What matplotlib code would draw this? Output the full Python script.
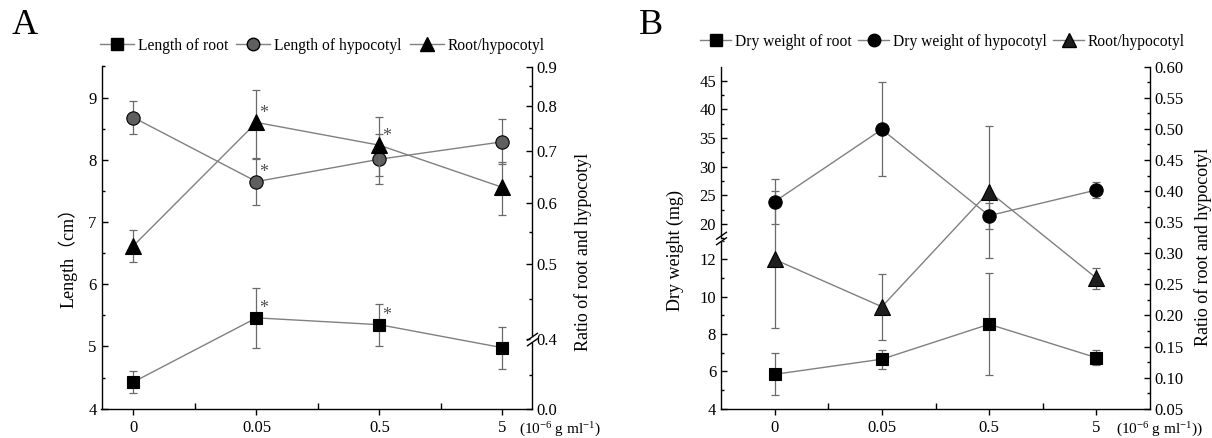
import numpy as np
import matplotlib
matplotlib.use('Agg')
import matplotlib.pyplot as plt
import matplotlib.ticker as mticker
from matplotlib.lines import Line2D
from matplotlib.path import Path

plt.rcParams['font.family'] = ['Liberation Serif', 'Noto Sans CJK SC', 'DejaVu Sans']
plt.rcParams['mathtext.fontset'] = 'custom'
plt.rcParams['mathtext.rm'] = 'Liberation Serif'
plt.rcParams['mathtext.it'] = 'Liberation Serif:italic'
plt.rcParams['axes.linewidth'] = 1.0

conc_labels = ['0', '0.05', '0.5', '5']

# A: 长度 (cm) 与根/下胚轴比值
root_len = [4.43, 5.46, 5.35, 4.98]
root_len_err = [0.18, 0.48, 0.34, 0.34]
hypo_len = [8.68, 7.65, 8.01, 8.29]
hypo_len_err = [0.26, 0.37, 0.40, 0.36]
ratio_len = [0.528, 0.762, 0.712, 0.628]
ratio_len_err = [0.025, 0.076, 0.062, 0.050]
sig_root_len = [False, True, True, False]
sig_hypo_len = [False, True, False, False]
sig_ratio_len = [False, True, True, False]

# B: 干重 (mg) 与比值
root_dw = [5.84, 6.65, 8.52, 6.73]
root_dw_err = [1.13, 0.50, 2.72, 0.40]
hypo_dw = [23.9, 36.5, 21.45, 25.93]
hypo_dw_err = [3.9, 8.2, 2.27, 1.45]
ratio_dw = [0.290, 0.214, 0.399, 0.260]
ratio_dw_err = [0.110, 0.053, 0.106, 0.017]

W, H = 1212, 438
LINE_C = '#808080'
ERR_C = '#6a6a6a'
STAR_C = '#505050'
FS_TICK = 12
FS_LAB = 13
FS_LEG = 11.2
FS_UNIT = 11


def px_rect(x0, y0, x1, y1):
    return [x0 / W, 1 - y1 / H, (x1 - x0) / W, (y1 - y0) / H]


def draw_series(ax, y, err, marker, ms, fc, sig=None):
    xs = np.arange(len(y))
    ax.errorbar(xs, y, yerr=err, fmt='none', ecolor=ERR_C, elinewidth=0.9,
                capsize=3, capthick=0.9, zorder=2, clip_on=False)
    ax.plot(xs, y, color=LINE_C, lw=1.0, zorder=2.5, clip_on=False)
    ax.plot(xs, y, ls='none', marker=marker, ms=ms, mfc=fc, mec='black',
            mew=0.8, zorder=3, clip_on=False)
    if sig:
        for i, s in enumerate(sig):
            if s:
                ax.annotate('*', (xs[i], y[i]), xytext=(5.5, 6.5),
                            textcoords='offset points', ha='center', va='center',
                            fontsize=13, color=STAR_C, zorder=4)


def style_x(ax):
    n = len(conc_labels)
    ax.set_xticks(np.arange(n))
    ax.set_xticklabels(conc_labels)
    ax.set_xticks(np.arange(n - 1) + 0.5, minor=True)
    ax.tick_params(axis='x', which='major', direction='out', length=4, width=1,
                   pad=4, labelsize=FS_TICK)
    ax.tick_params(axis='x', which='minor', direction='in', length=4, width=1)


def style_y(ax):
    ax.tick_params(axis='y', which='major', direction='in', length=4.5, width=1,
                   pad=3.5, labelsize=FS_TICK)
    ax.tick_params(axis='y', which='minor', direction='in', length=2.5, width=1)


def break_mark(ax, xa, ya):
    # 断轴符号 //
    trans = ax.transAxes
    gap = Path([(-0.3, -0.5), (0.3, -0.5), (0.3, 0.5), (-0.3, 0.5), (-0.3, -0.5)],
               [Path.MOVETO, Path.LINETO, Path.LINETO, Path.LINETO, Path.CLOSEPOLY])
    slash = Path([(-1, -1.2), (1, 0.2), (-1, -0.2), (1, 1.2)],
                 [Path.MOVETO, Path.LINETO, Path.MOVETO, Path.LINETO])
    ms = 9.5
    ax.plot([xa], [ya], transform=trans, marker=gap, ms=ms * 0.5 / 1.2,
            mfc='white', mec='none', ls='none', clip_on=False, zorder=5)
    ax.plot([xa], [ya], transform=trans, marker=slash, ms=ms, mfc='none',
            mec='black', mew=1.0, ls='none', clip_on=False, zorder=6)


fig = plt.figure(figsize=(W / 100, H / 100), dpi=100)

# ---------------- A ----------------
ax = fig.add_axes(px_rect(101.5, 66.5, 532, 408.7))
ax.set_xlim(-0.26, 3.24)
ax.set_ylim(4, 9.5)
ax.yaxis.set_major_locator(mticker.MultipleLocator(1))
ax.yaxis.set_minor_locator(mticker.MultipleLocator(0.5))
ax.spines['top'].set_visible(False)
ax.spines['right'].set_visible(False)
style_x(ax)
style_y(ax)
draw_series(ax, hypo_len, hypo_len_err, 'o', 9.6, '#5f5f5f', sig_hypo_len)
draw_series(ax, root_len, root_len_err, 's', 8.4, 'black', sig_root_len)

ax2 = ax.twinx()
ax2.set_yscale('log')
ratio_floor = 0.325
ax2.set_ylim(ratio_floor, 0.9)
ratio_ticks_A = [0.4, 0.5, 0.6, 0.7, 0.8, 0.9]
ax2.yaxis.set_major_locator(mticker.FixedLocator([ratio_floor] + ratio_ticks_A))
ax2.yaxis.set_major_formatter(mticker.FixedFormatter(['0.0'] + ['%.1f' % v for v in ratio_ticks_A]))
ax2.yaxis.set_minor_locator(mticker.FixedLocator([0.359, 0.45, 0.55, 0.65, 0.75, 0.85]))
ax2.yaxis.set_minor_formatter(mticker.NullFormatter())
for s in ['top', 'left', 'bottom']:
    ax2.spines[s].set_visible(False)
style_y(ax2)
draw_series(ax2, ratio_len, ratio_len_err, '^', 11, 'black', sig_ratio_len)
ya = (np.log10(0.4) - np.log10(ratio_floor)) / (np.log10(0.9) - np.log10(ratio_floor))
break_mark(ax2, 1.0, ya)

ax.text(-0.078, 0.455, 'Length（cm）', transform=ax.transAxes, rotation=90,
        ha='center', va='center', fontsize=FS_LAB)
ax.text(1.118, 0.458, 'Ratio of root and hypocotyl', transform=ax.transAxes,
        rotation=90, ha='center', va='center', fontsize=FS_LAB)
ax.text(0.97, -0.062, r'(10$^{-6}$ g ml$^{-1}$)', transform=ax.transAxes,
        ha='left', va='center', fontsize=FS_UNIT)

hA = [Line2D([], [], color=LINE_C, lw=1, marker='s', ms=8, mfc='black', mec='black'),
      Line2D([], [], color=LINE_C, lw=1, marker='o', ms=9, mfc='#5f5f5f', mec='black'),
      Line2D([], [], color=LINE_C, lw=1, marker='^', ms=10, mfc='black', mec='black')]
fig.legend(hA, ['Length of root', 'Length of hypocotyl', 'Root/hypocotyl'],
           loc='center left', bbox_to_anchor=(100 / W, 1 - 45.7 / H), ncol=3,
           frameon=False, fontsize=FS_LEG, handlelength=2.2, handletextpad=0.25,
           columnspacing=0.5, borderpad=0, borderaxespad=0)
fig.text(25 / W, 1 - 26 / H, 'A', fontsize=26, ha='center', va='center')

# ---------------- B ----------------
axB = fig.add_axes(px_rect(721, 66.7, 1150, 408.7))
axB.set_xlim(-0.5, 3.5)
axB.set_ylim(0.05, 0.60)
axB.yaxis.tick_right()
axB.yaxis.set_major_locator(mticker.MultipleLocator(0.05))
axB.yaxis.set_minor_locator(mticker.MultipleLocator(0.025))
axB.yaxis.set_major_formatter(mticker.FormatStrFormatter('%.2f'))
axB.spines['top'].set_visible(False)
axB.spines['left'].set_visible(False)
style_x(axB)
style_y(axB)
draw_series(axB, ratio_dw, ratio_dw_err, '^', 11, '#1e1e1e')

y_brk = 238.3
axLo = fig.add_axes(px_rect(721, y_brk, 1150, 408.7), facecolor='none')
axHi = fig.add_axes(px_rect(721, 66.7, 1150, y_brk), facecolor='none')
axLo.set_ylim(4, 13.12)
axHi.set_ylim(17.5, 47.44)
axLo.yaxis.set_major_locator(mticker.MultipleLocator(2))
axLo.yaxis.set_minor_locator(mticker.MultipleLocator(1))
axHi.yaxis.set_major_locator(mticker.MultipleLocator(5))
axHi.yaxis.set_minor_locator(mticker.MultipleLocator(2.5))
for a in (axLo, axHi):
    a.set_xlim(-0.5, 3.5)
    a.xaxis.set_visible(False)
    for s in ['top', 'right', 'bottom']:
        a.spines[s].set_visible(False)
    style_y(a)
draw_series(axLo, root_dw, root_dw_err, 's', 8.4, 'black')
draw_series(axHi, hypo_dw, hypo_dw_err, 'o', 9.6, 'black')
break_mark(axLo, 0.0, 1.0)

axB.text(-0.107, 0.464, 'Dry weight (mg)', transform=axB.transAxes, rotation=90,
         ha='center', va='center', fontsize=FS_LAB)
axB.text(1.124, 0.474, 'Ratio of root and hypocotyl', transform=axB.transAxes,
         rotation=90, ha='center', va='center', fontsize=FS_LAB)
axB.text(0.92, -0.062, r'(10$^{-6}$ g ml$^{-1}$))', transform=axB.transAxes,
         ha='left', va='center', fontsize=FS_UNIT)

hB = [Line2D([], [], color=LINE_C, lw=1, marker='s', ms=8, mfc='black', mec='black'),
      Line2D([], [], color=LINE_C, lw=1, marker='o', ms=9, mfc='black', mec='black'),
      Line2D([], [], color=LINE_C, lw=1, marker='^', ms=10, mfc='#1e1e1e', mec='black')]
fig.legend(hB, ['Dry weight of root', 'Dry weight of hypocotyl', 'Root/hypocotyl'],
           loc='center left', bbox_to_anchor=(700 / W, 1 - 41.7 / H), ncol=3,
           frameon=False, fontsize=FS_LEG, handlelength=2.0, handletextpad=0.25,
           columnspacing=0.4, borderpad=0, borderaxespad=0)
fig.text(651 / W, 1 - 25 / H, 'B', fontsize=26, ha='center', va='center')

plt.savefig('out.png', dpi=100)
plt.close()
